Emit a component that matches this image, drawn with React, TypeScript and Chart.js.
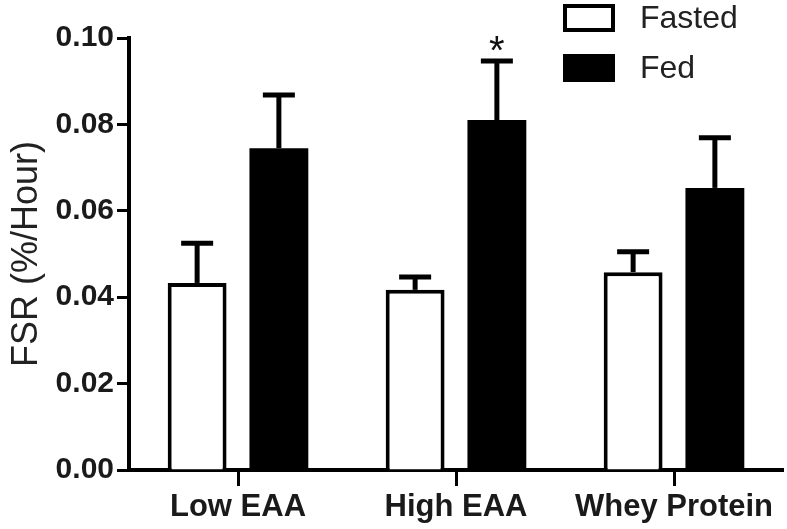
import React, { useEffect, useRef } from "react";
import { Chart, registerables } from "chart.js";

Chart.register(...registerables);

const categories = ["Low EAA", "High EAA", "Whey Protein"];
const seriesLabels = ["Fasted", "Fed"];
const fastedValues = [0.0433, 0.0417, 0.0458];
const fastedErrors = [0.0092, 0.003, 0.0047];
const fedValues = [0.0745, 0.081, 0.0653];
const fedErrors = [0.0123, 0.0137, 0.0116];
const fedMarks = ["", "*", ""];
const yTickValues = [0, 0.02, 0.04, 0.06, 0.08, 0.1];
const yTitle = "FSR (%/Hour)";

const FONT = "'Liberation Sans', Arial, sans-serif";

const errorBarPlugin = {
  id: "errorBars",
  afterDatasetsDraw(chart: any) {
    const ctx = chart.ctx;
    const yScale = chart.scales.y;
    chart.data.datasets.forEach((ds: any, di: number) => {
      const meta = chart.getDatasetMeta(di);
      const errs: number[] = ds.errors || [];
      const marks: string[] = ds.marks || [];
      meta.data.forEach((bar: any, i: number) => {
        const v = ds.data[i];
        const top = yScale.getPixelForValue(v + (errs[i] || 0));
        const base = yScale.getPixelForValue(v);
        ctx.save();
        ctx.strokeStyle = "#000";
        ctx.lineWidth = 5;
        ctx.lineCap = "butt";
        ctx.beginPath();
        ctx.moveTo(bar.x, base);
        ctx.lineTo(bar.x, top);
        ctx.stroke();
        ctx.beginPath();
        ctx.moveTo(bar.x - 16, top);
        ctx.lineTo(bar.x + 16, top);
        ctx.stroke();
        if (marks[i]) {
          ctx.fillStyle = "#111";
          ctx.font = `40px ${FONT}`;
          ctx.textAlign = "center";
          ctx.textBaseline = "alphabetic";
          ctx.fillText(marks[i], bar.x, top + 3);
        }
        ctx.restore();
      });
    });
  },
};

const legendPlugin = {
  id: "customLegend",
  afterDraw(chart: any) {
    const ctx = chart.ctx;
    const boxX = 563;
    const boxW = 52;
    const boxH = 28;
    const rowY = [4, 54];
    ctx.save();
    chart.data.datasets.forEach((ds: any, i: number) => {
      const y = rowY[i];
      ctx.fillStyle = ds.backgroundColor;
      ctx.fillRect(boxX, y, boxW, boxH);
      ctx.strokeStyle = "#000";
      ctx.lineWidth = 4;
      ctx.strokeRect(boxX + 2, y + 2, boxW - 4, boxH - 4);
      ctx.fillStyle = "#222";
      ctx.font = `32px ${FONT}`;
      ctx.textAlign = "left";
      ctx.textBaseline = "middle";
      ctx.fillText(ds.label, 640, y + boxH / 2 + 1);
    });
    ctx.restore();
  },
};

export default function App() {
  const canvasRef = useRef<HTMLCanvasElement | null>(null);

  useEffect(() => {
    document.body.style.margin = "0";
    const canvas = canvasRef.current;
    if (!canvas) return;
    const chart = new Chart(canvas, {
      type: "bar",
      data: {
        labels: categories,
        datasets: [
          {
            label: seriesLabels[0],
            data: fastedValues,
            errors: fastedErrors,
            backgroundColor: "#ffffff",
            borderColor: "#000000",
            borderWidth: 4,
            borderSkipped: "start",
            categoryPercentage: 0.75,
            barPercentage: 0.72,
          } as any,
          {
            label: seriesLabels[1],
            data: fedValues,
            errors: fedErrors,
            marks: fedMarks,
            backgroundColor: "#000000",
            borderColor: "#000000",
            borderWidth: 0,
            categoryPercentage: 0.75,
            barPercentage: 0.72,
          } as any,
        ],
      },
      options: {
        responsive: false,
        animation: false,
        layout: { padding: { top: 38, right: 4, left: 0, bottom: 0 } },
        plugins: {
          legend: { display: false },
          tooltip: { enabled: false },
        },
        scales: {
          x: {
            grid: {
              display: true,
              drawOnChartArea: false,
              drawTicks: true,
              tickLength: 16,
              tickWidth: 3,
              color: "#000",
              offset: false,
            },
            border: { display: true, color: "#000", width: 4 },
            ticks: {
              color: "#1a1a1a",
              padding: 3,
              font: { family: FONT, size: 31, weight: "bold" },
            },
            afterFit(scale: any) {
              scale.height = 59;
            },
          },
          y: {
            min: 0,
            max: 0.1,
            afterBuildTicks(scale: any) {
              scale.ticks = yTickValues.map((v) => ({ value: v }));
            },
            grid: {
              display: true,
              drawOnChartArea: false,
              drawTicks: true,
              tickLength: 12,
              tickWidth: 3,
              color: "#000",
            },
            border: { display: true, color: "#000", width: 4 },
            ticks: {
              color: "#1a1a1a",
              padding: 3,
              font: { family: FONT, size: 30, weight: "bold" },
              callback: (v: any) => Number(v).toFixed(2),
            },
            title: {
              display: true,
              text: yTitle,
              color: "#222",
              padding: { top: 5, bottom: 0 },
              font: { family: FONT, size: 36, weight: "normal" },
            },
            afterFit(scale: any) {
              scale.width = 129;
            },
          },
        },
      },
      plugins: [errorBarPlugin, legendPlugin],
    });
    return () => chart.destroy();
  }, []);

  return (
    <div style={{ width: 787, height: 529, background: "#fff" }}>
      <canvas ref={canvasRef} width={787} height={529} />
    </div>
  );
}
